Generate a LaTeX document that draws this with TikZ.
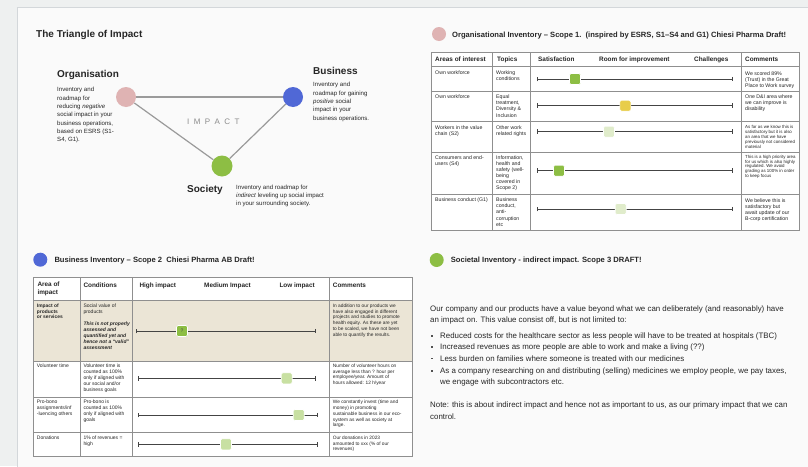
\documentclass[tikz,border=0pt]{standalone}
\usepackage{fontspec}
\setmainfont{Liberation Sans}
\usetikzlibrary{arrows.meta}
\definecolor{bgout}{HTML}{EEF0F0}
\definecolor{panel}{HTML}{FAFAFA}
\definecolor{pborder}{HTML}{D3D7DA}
\definecolor{cpink}{HTML}{DFB3B3}
\definecolor{cblue}{HTML}{5068D6}
\definecolor{cgreen}{HTML}{8DBE44}
\definecolor{cyellow}{HTML}{E8CD4A}
\definecolor{cpale}{HTML}{E0ECCB}
\definecolor{clight}{HTML}{C8E0A2}
\definecolor{beige}{HTML}{EBE5D6}
\definecolor{txt}{HTML}{262626}
\definecolor{gridc}{HTML}{8F8F8F}
\definecolor{tri}{HTML}{9A9A9A}
\definecolor{sl}{HTML}{444444}
\newcommand\ml[1]{\begin{tabular}[t]{@{}l@{}}#1\end{tabular}}
\begin{document}
\begin{tikzpicture}[x=1pt,y=-1pt,
  lbl/.style={inner sep=0pt, anchor=base west, text=txt},
  thead/.style={lbl, font=\fontsize{6.4}{7.3}\selectfont\bfseries},
  tcell/.style={lbl, font=\fontsize{5.2}{6.1}\selectfont},
  tsmall/.style={lbl, font=\fontsize{4.4}{4.9}\selectfont},
  bcell/.style={lbl, font=\fontsize{5.0}{5.8}\selectfont},
  bcom/.style={lbl, font=\fontsize{4.8}{5.75}\selectfont},
  bcellb/.style={lbl, font=\fontsize{4.9}{5.8}\selectfont\bfseries},
  bcellbi/.style={lbl, font=\fontsize{5.0}{6}\selectfont\bfseries\itshape},
  desc/.style={lbl, font=\fontsize{6.1}{8.3}\selectfont},
  bigtitle/.style={lbl, font=\fontsize{10}{12}\selectfont\bfseries},
  maintitle/.style={lbl, font=\fontsize{10}{12}\selectfont\bfseries},
  sectitle/.style={lbl, font=\fontsize{7.6}{9}\selectfont\bfseries},
  para/.style={lbl, font=\fontsize{7.9}{11.4}\selectfont},
  dotnode/.style={circle, inner sep=0pt, minimum size=#1},
  mk/.style={rounded corners=1.5pt, minimum size=11pt, inner sep=0pt, draw=white, line width=0.6pt, fill=#1},
  slider/.style={draw=sl, line width=0.9pt, {Bar[width=4.5pt,line width=0.9pt]}-{Bar[width=4.5pt,line width=0.9pt]}},
  tgrid/.style={draw=gridc, line width=0.8pt},
  bullet/.style={fill=txt!80, inner sep=0pt, minimum size=1.4pt}
]
% background and panel
\useasboundingbox (0,0) rectangle (808,466);
\fill[bgout] (0,0) rectangle (808,466);
\fill[panel] (17,7) rectangle (812,470);
\draw[pborder, line width=1pt] (17,470) -- (17,7) -- (812,7);

% ---------------- Triangle of impact ----------------
\node[maintitle] (ttitle) at (36,37) {The Triangle of Impact};
\node[dotnode=20pt, fill=cpink] (org) at (126,97) {};
\node[dotnode=20pt, fill=cblue] (bus) at (293,97) {};
\node[dotnode=21pt, fill=cgreen] (soc) at (222,166) {};
\draw[tri, line width=1.2pt] (org) -- (bus);
\draw[tri, line width=1.2pt] (org) -- (soc);
\draw[tri, line width=1.2pt] (soc) -- (bus);
\node[lbl, font=\fontsize{8}{10}\selectfont, text=gray!90] (impact) at (187,124)
  {I\kern4.4pt M\kern4.4pt P\kern4.4pt A\kern4.4pt C\kern4.4pt T};
\node[bigtitle] (orgt) at (57,77) {Organisation};
\node[desc] (orgd) at (57,91.9) {\ml{Inventory and\\roadmap for\\reducing \textit{negative}\\social impact in your\\business operations,\\based on ESRS (S1-\\S4, G1).}};
\node[bigtitle] (bust) at (313,74) {Business};
\node[desc] (busd) at (313,86.9) {\ml{Inventory and\\roadmap for gaining\\\textit{positive} social\\impact in your\\business operations.}};
\node[bigtitle] (soct) at (187,192) {Society};
\node[desc] (socd) at (236,189.2) {\ml{Inventory and roadmap for\\\textit{indirect} leveling up social impact\\in your surrounding society.}};

% ---------------- Organisational inventory ----------------
\node[dotnode=14pt, fill=cpink] (odot) at (439,34) {};
\node[sectitle] (otitle) at (452,37.6) {Organisational Inventory -- Scope 1.\ \ (inspired by ESRS, S1--S4 and G1) Chiesi Pharma Draft!};
\fill[white] (431.3,52) rectangle (799.3,230.7);
\draw[tgrid] (431.3,52) rectangle (799.3,230.7);
\foreach \xx in {492.7,530.7,741.3} \draw[tgrid] (\xx,52) -- (\xx,230.7);
\foreach \yy in {66.7,91,121,152.3,194.3} \draw[tgrid] (431.3,\yy) -- (799.3,\yy);
\node[thead] (oh1) at (435,61.8) {Areas of interest};
\node[thead] (oh2) at (497,61.8) {Topics};
\node[thead] (oh3) at (538,61.8) {Satisfaction};
\node[thead] (oh4) at (599,61.8) {Room for improvement};
\node[thead] (oh5) at (694,61.8) {Challenges};
\node[thead] (oh6) at (745,61.8) {Comments};
% row 1
\node[tcell] (o1a) at (435,74.4) {Own workforce};
\node[tcell] (o1b) at (496,74.4) {\ml{Working\\conditions}};
\node[tcell] (o1c) at (745,75.2) {\ml{We scored 89\%\\(Trust) in the Great\\Place to Work survey}};
% row 2
\node[tcell] (o2a) at (435,98.7) {Own workforce};
\node[tcell] (o2b) at (496,98.7) {\ml{Equal\\treatment,\\Diversity \&\\Inclusion}};
\node[tcell] (o2c) at (745,98.7) {\ml{One D\&I area where\\we can improve is\\disability}};
% row 3
\node[tcell] (o3a) at (435,129) {\ml{Workers in the value\\chain (S2)}};
\node[tcell] (o3b) at (496,129) {\ml{Other work\\related rights}};
\node[tsmall] (o3c) at (745,128.4) {\ml{As far as we know this is\\satisfactory but it is also\\an area that we have\\previously not considered\\material}};
% row 4
\node[tcell] (o4a) at (435,159.4) {\ml{Consumers and end-\\users (S4)}};
\node[tcell] (o4b) at (496,159.4) {\ml{Information,\\health and\\safety (well-\\being\\covered in\\Scope 2)}};
\node[tsmall] (o4c) at (745,158.1) {\ml{This is a high priority area\\for us which is also highly\\regulated. We avoid\\grading as 100\% in order\\to keep focus}};
% row 5
\node[tcell] (o5a) at (435,201.7) {Business conduct (G1)};
\node[tcell] (o5b) at (496,201.7) {\ml{Business\\conduct,\\anti-\\corruption\\etc}};
\node[tcell] (o5c) at (745,202) {\ml{We believe this is\\satisfactory but\\await update of our\\B-corp certification}};
% sliders
\foreach \i/\yy in {1/79,2/105.7,3/131.7,4/170.7,5/209}{
  \coordinate (os\i) at (537.3,\yy);
  \coordinate (oe\i) at (732.7,\yy);
  \draw[slider] (os\i) -- (oe\i);
}
\node[mk=cgreen] (om1) at (575,79) {};
\node[mk=cyellow] (om2) at (625.3,105.7) {};
\node[mk=cpale] (om3) at (609,131.7) {};
\node[mk=cgreen] (om4) at (559,170.7) {};
\node[mk=cpale] (om5) at (620.7,209) {};

% ---------------- Business inventory ----------------
\node[dotnode=14pt, fill=cblue] (bdot) at (40.3,259.7) {};
\node[sectitle] (btitle) at (54.3,262.6) {Business Inventory -- Scope 2\ \ Chiesi Pharma AB Draft!};
\fill[white] (33.3,277.3) rectangle (412,456.7);
\fill[beige] (33.3,300) rectangle (412,361);
\draw[tgrid] (33.3,277.3) rectangle (412,456.7);
\foreach \xx in {80,132.3,329.7} \draw[tgrid] (\xx,277.3) -- (\xx,456.7);
\foreach \yy in {300,361,397.3,432.3} \draw[tgrid] (33.3,\yy) -- (412,\yy);
\node[thead] (bh1) at (37.3,286.9) {\ml{Area of\\impact}};
\node[thead] (bh2) at (83.3,287.2) {Conditions};
\node[thead] (bh3) at (139.3,287.2) {High impact};
\node[thead] (bh4) at (204,287.2) {Medium Impact};
\node[thead] (bh5) at (279.3,287.2) {Low impact};
\node[thead] (bh6) at (332.7,287.2) {Comments};
% row 1
\node[bcellb] (b1a) at (36.7,307.3) {\ml{Impact of\\products\\or services}};
\node[bcell] (b1b) at (83.3,307.3) {\ml{Social value of\\products}};
\node[bcellbi] (b1i) at (83.3,325.6) {\ml{This is not properly\\assessed and\\quantified yet and\\hence not a ``valid''\\assessment}};
\node[bcom] (b1c) at (332.7,307.3) {\ml{In addition to our products we\\have also engaged in different\\projects and studies to promote\\health equity. As these are yet\\to be scaled, we have not been\\able to quantify the results.}};
% row 2
\node[bcell] (b2a) at (36.7,367.9) {Volunteer time};
\node[bcell] (b2b) at (83.3,367.9) {\ml{Volunteer time is\\counted as 100\%\\only if aligned with\\our social and/or\\business goals}};
\node[bcom] (b2c) at (332.7,367.3) {\ml{Number of volunteer hours on\\average less than ? hour per\\employee/year. Amount of\\hours allowed: 12 h/year}};
% row 3
\node[bcell] (b3a) at (36.7,403.9) {\ml{Pro-bono\\assignments/inf\\-luencing others}};
\node[bcell] (b3b) at (83.3,403.9) {\ml{Pro-bono is\\counted as 100\%\\only if aligned with\\goals}};
\node[bcom] (b3c) at (332.7,403.9) {\ml{We constantly invest (time and\\money) in promoting\\sustainable business in our eco-\\system as well as society at\\large.}};
% row 4
\node[bcell] (b4a) at (36.7,439.9) {Donations};
\node[bcell] (b4b) at (83.3,439.9) {\ml{1\% of revenues =\\high}};
\node[bcom] (b4c) at (332.7,439.3) {\ml{Our donations in 2023\\amounted to xxx (\% of our\\revenues)}};
% sliders
\coordinate (bs1) at (136,331);   \coordinate (be1) at (316,331);
\coordinate (bs2) at (138.3,378.3); \coordinate (be2) at (316,378.3);
\coordinate (bs3) at (138.3,415); \coordinate (be3) at (318.3,415);
\coordinate (bs4) at (138.3,444.3); \coordinate (be4) at (318.3,444.3);
\foreach \i in {1,2,3,4} \draw[slider] (bs\i) -- (be\i);
\node[mk=cgreen, font=\fontsize{5}{6}\selectfont, text=black!70] (bm1) at (182,331) {?};
\node[mk=clight] (bm2) at (286.7,378.3) {};
\node[mk=clight] (bm3) at (298.7,415) {};
\node[mk=clight] (bm4) at (226,444.3) {};

% ---------------- Societal inventory ----------------
\node[dotnode=14pt, fill=cgreen] (sdot) at (436.7,260) {};
\node[sectitle] (stitle) at (450.7,262.6) {Societal Inventory - indirect impact. Scope 3 DRAFT!};
\node[para] (sp1) at (430,311) {\ml{Our company and our products have a value beyond what we can deliberately (and reasonably) have\\an impact on. This value consist off, but is not limited to:}};
\node[bullet] (sb1) at (432,335.8) {};
\node[para] (sl1) at (440,338.4) {Reduced costs for the healthcare sector as less people will have to be treated at hospitals (TBC)};
\node[bullet] (sb2) at (432,346.8) {};
\node[para] (sl2) at (440,349.4) {Increased revenues as more people are able to work and make a living (??)};
\node[bullet] (sb3) at (432,358.4) {};
\node[para] (sl3) at (440,361) {Less burden on families where someone is treated with our medicines};
\node[bullet] (sb4) at (432,370.8) {};
\node[para] (sl4) at (440,373.4) {\ml{As a company researching on and distributing (selling) medicines we employ people, we pay taxes,\\we engage with subcontractors etc.}};
\node[para] (sn) at (430,407.7) {\ml{Note: this is about indirect impact and hence not as important to us, as our primary impact that we can\\control.}};
\end{tikzpicture}
\end{document}
